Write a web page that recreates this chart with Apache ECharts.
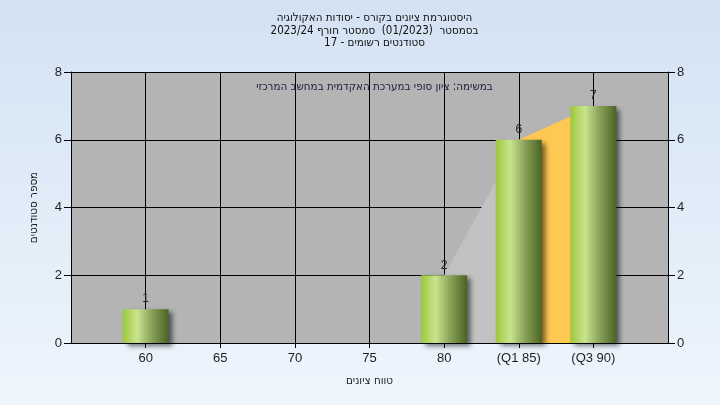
<!DOCTYPE html>
<html>
<head>
<meta charset="utf-8">
<script src="https://cdn.jsdelivr.net/npm/echarts@6/dist/echarts.min.js"></script>
<style>
html,body{margin:0;padding:0;}
#c{width:720px;height:405px;}
</style>
</head>
<body>
<div id="c"></div>
<script>
const categories = [60, 65, 70, 75, 80, 85, 90];
const counts = [1, 0, 0, 0, 2, 6, 7];
const tickLabels = ['60', '65', '70', '75', '80', '(Q1 85)', '(Q3 90)'];
const q1 = 85;
const q3 = 90;
const titleLines = [
  'היסטוגרמת ציונים בקורס - יסודות האקולוגיה',
  'בסמסטר  (01/2023)  סמסטר חורף 2023/24',
  'סטודנטים רשומים - 17'
];
const noteText = 'במשימה: ציון סופי במערכת האקדמית במחשב המרכזי';
const xName = 'טווח ציונים';
const yName = 'מספר סטודנטים';

const FONT = '"Liberation Sans", "DejaVu Sans", Arial, sans-serif';
const HFONT = '"DejaVu Sans Condensed", "DejaVu Sans", sans-serif';
const TXT = '#1e1e1e';

const barData = categories.map((c, i) => [c, counts[i]]).filter(d => d[1] > 0);
const q1i = categories.indexOf(q1), q3i = categories.indexOf(q3);
const preArea = [[categories[q1i - 1], counts[q1i - 1]], [q1, counts[q1i]]];
const iqrArea = [[q1, counts[q1i]], [q3, counts[q3i]]];

const labelMap = {};
categories.forEach((c, i) => labelMap[c] = tickLabels[i]);

const chart = echarts.init(document.getElementById('c'));
const barGrad = new echarts.graphic.LinearGradient(0, 0, 1, 0, [
  {offset: 0, color: '#9cc83a'},
  {offset: 0.32, color: '#c9e48e'},
  {offset: 0.6, color: '#8fa85e'},
  {offset: 1, color: '#4a6322'}
]);

const yAxisCommon = {
  type: 'value', min: 0, max: 8, interval: 2,
  axisLine: {show: true, lineStyle: {color: '#000', width: 1}},
  axisTick: {show: true, length: 7, lineStyle: {color: '#000'}},
  axisLabel: {color: TXT, fontSize: 13, fontFamily: FONT, margin: 9},
  splitLine: {show: false}
};

chart.setOption({
  backgroundColor: new echarts.graphic.LinearGradient(0, 0, 0, 1, [
    {offset: 0, color: '#d3e2f3'},
    {offset: 1, color: '#eef6fd'}
  ]),
  animation: false,
  title: [{
    text: titleLines.join('\n'),
    left: 369.5, top: 7, textAlign: 'center',
    textStyle: {fontSize: 11.5, fontWeight: 'normal', color: '#111', fontFamily: HFONT, lineHeight: 12.5}
  }, {
    text: noteText,
    left: 369.5, top: 76, textAlign: 'center',
    textStyle: {fontSize: 11.5, fontWeight: 'normal', color: '#202040', fontFamily: HFONT}
  }],
  grid: {left: 71, right: 52, top: 72, bottom: 62, show: true, backgroundColor: '#b4b4b4', borderWidth: 0},
  xAxis: {
    type: 'value', min: 55, max: 95, interval: 5,
    name: xName, nameLocation: 'middle', nameGap: 32,
    nameTextStyle: {color: TXT, fontSize: 11.5, fontFamily: HFONT},
    axisLine: {show: true, onZero: false, lineStyle: {color: '#000'}},
    axisTick: {show: true, length: 5, lineStyle: {color: '#000'}},
    axisLabel: {
      color: TXT, fontSize: 13, fontFamily: FONT, margin: 9,
      showMinLabel: false, showMaxLabel: false,
      formatter: v => labelMap[v] || ''
    },
    splitLine: {show: true, lineStyle: {color: '#000', width: 1}}
  },
  yAxis: [
    Object.assign({}, yAxisCommon, {
      position: 'left',
      name: yName, nameLocation: 'middle', nameGap: 31, nameRotate: 90,
      nameTextStyle: {color: TXT, fontSize: 11.5, fontFamily: HFONT},
      splitLine: {show: true, lineStyle: {color: '#000', width: 1}}
    }),
    Object.assign({}, yAxisCommon, {position: 'right'})
  ],
  series: [{
    type: 'line', data: preArea, symbol: 'none', z: 1,
    lineStyle: {width: 0}, areaStyle: {color: '#c2c2c2', opacity: 1}
  }, {
    type: 'line', data: iqrArea, symbol: 'none', z: 1,
    lineStyle: {width: 0}, areaStyle: {color: '#ffc853', opacity: 1}
  }, {
    type: 'bar', data: barData, barWidth: 46, z: 3,
    itemStyle: {
      color: barGrad,
      shadowColor: 'rgba(0,0,0,0.55)', shadowBlur: 5, shadowOffsetX: 4, shadowOffsetY: 3
    },
    label: {show: true, position: 'top', distance: 4, color: '#222', fontSize: 12, fontFamily: FONT}
  }]
});
</script>
</body>
</html>
